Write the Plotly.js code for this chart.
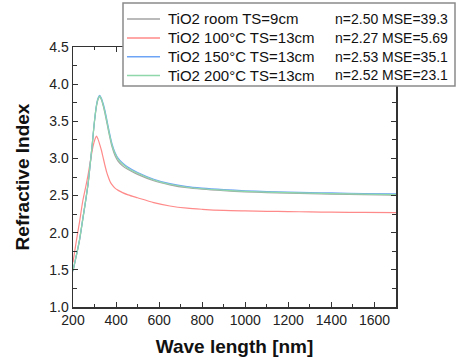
<!DOCTYPE html>
<html>
<head>
<meta charset="utf-8">
<script src="https://cdn.plot.ly/plotly-3.0.1.min.js"></script>
<style>html,body{margin:0;padding:0;background:#fff;}#chart{width:464px;height:360px;}</style>
</head>
<body>
<div id="chart"></div>
<script>
const wavelength = [200, 215, 230, 245, 260, 270, 280, 290, 300, 309, 316, 324, 332, 340, 348, 356, 364, 372, 380, 395, 410, 430, 456, 500, 575, 650, 730, 800, 900, 1000, 1100, 1200, 1300, 1400, 1550, 1700];

const nRoom = [1.48, 1.68, 1.89, 2.17, 2.45, 2.65, 2.92, 3.20, 3.50, 3.70, 3.79, 3.83, 3.79, 3.71, 3.61, 3.50, 3.38, 3.27, 3.17, 3.04, 2.96, 2.90, 2.85, 2.785, 2.70, 2.645, 2.605, 2.585, 2.565, 2.55, 2.54, 2.532, 2.526, 2.52, 2.513, 2.507];
const n100 = [1.60, 1.88, 2.14, 2.42, 2.63, 2.78, 2.95, 3.12, 3.24, 3.30, 3.26, 3.19, 3.11, 3.01, 2.91, 2.82, 2.75, 2.69, 2.65, 2.60, 2.57, 2.54, 2.51, 2.47, 2.405, 2.36, 2.33, 2.315, 2.30, 2.293, 2.288, 2.284, 2.28, 2.277, 2.273, 2.27];
const n150 = [1.49, 1.69, 1.90, 2.18, 2.46, 2.66, 2.93, 3.21, 3.51, 3.72, 3.81, 3.85, 3.81, 3.74, 3.65, 3.54, 3.42, 3.31, 3.21, 3.08, 3.00, 2.94, 2.88, 2.81, 2.72, 2.66, 2.62, 2.60, 2.58, 2.565, 2.555, 2.547, 2.54, 2.535, 2.528, 2.522];
const n200 = [1.49, 1.69, 1.90, 2.18, 2.46, 2.66, 2.93, 3.21, 3.51, 3.71, 3.80, 3.84, 3.80, 3.72, 3.63, 3.52, 3.40, 3.29, 3.19, 3.065, 2.985, 2.925, 2.865, 2.80, 2.71, 2.652, 2.612, 2.592, 2.572, 2.557, 2.547, 2.539, 2.533, 2.527, 2.52, 2.514];

const seriesNames = ["TiO2 room TS=9cm", "TiO2 100°C TS=13cm", "TiO2 150°C TS=13cm", "TiO2 200°C TS=13cm"];
const fitLabels = ["n=2.50 MSE=39.3", "n=2.27 MSE=5.69", "n=2.53 MSE=35.1", "n=2.52 MSE=23.1"];
const seriesValues = [nRoom, n100, n150, n200];
const colors = ["#a3a3a3", "#ff8a8a", "#6ea4f5", "#8fd8aa"];

const traces = seriesValues.map((v, i) => ({
  x: wavelength, y: v, type: "scatter", mode: "lines", name: seriesNames[i], showlegend: false,
  line: {color: colors[i], width: 1.2, shape: "spline", smoothing: 0.8}
}));

const fontFam = "Liberation Sans, Arial, sans-serif";
// plot area in px: left 73, right 396, top 47, bottom 307
const pxX = px => (px - 73) / 323;
const pxY = py => (307 - py) / 260;
const rowPx = [19, 37.9, 56.7, 75.4];

const shapes = [{type: "rect", xref: "paper", yref: "paper", x0: pxX(123), x1: pxX(455), y0: pxY(86), y1: pxY(3),
  fillcolor: "#fff", line: {color: "#8a8a8a", width: 1.5}, layer: "above"}];
const annotations = [];
seriesNames.forEach((name, i) => {
  shapes.push({type: "line", xref: "paper", yref: "paper", x0: pxX(127), x1: pxX(160), y0: pxY(rowPx[i]), y1: pxY(rowPx[i]),
    line: {color: colors[i], width: 1.5}, layer: "above"});
  annotations.push({text: name, xref: "paper", yref: "paper", x: pxX(166), y: pxY(rowPx[i]), xanchor: "left", yanchor: "middle",
    showarrow: false, font: {family: fontFam, size: 15, color: "#111"}});
  annotations.push({text: fitLabels[i], xref: "paper", yref: "paper", x: pxX(333), y: pxY(rowPx[i]), xanchor: "left", yanchor: "middle",
    showarrow: false, font: {family: fontFam, size: 14, color: "#111"}});
});

const layout = {
  width: 464, height: 360,
  margin: {l: 73, r: 68, t: 47, b: 53},
  paper_bgcolor: "#fff", plot_bgcolor: "#fff",
  font: {family: fontFam, size: 14, color: "#222"},
  showlegend: false,
  xaxis: {
    range: [200, 1700], tick0: 200, dtick: 200, ticks: "inside", ticklen: 5, tickwidth: 1, tickcolor: "#333",
    showline: true, linecolor: "#333", linewidth: 1.5, mirror: "ticks", showgrid: false, zeroline: false,
    minor: {dtick: 100, ticks: "inside", ticklen: 3, tickcolor: "#333", showgrid: false},
    tickfont: {size: 14, color: "#222"},
    title: {text: "<b>Wave length [nm]</b>", font: {size: 19, color: "#111"}, standoff: 12}
  },
  yaxis: {
    range: [1, 4.5], tick0: 1, dtick: 0.5, tickformat: ".1f", ticks: "inside", ticklen: 5, tickwidth: 1, tickcolor: "#333",
    showline: true, linecolor: "#333", linewidth: 1.5, mirror: "ticks", showgrid: false, zeroline: false,
    minor: {dtick: 0.25, ticks: "inside", ticklen: 4, tickcolor: "#333", showgrid: false},
    tickfont: {size: 14, color: "#222"},
    title: {text: "<b>Refractive Index</b>", font: {size: 19, color: "#111"}, standoff: 14}
  },
  shapes: shapes,
  annotations: annotations
};

Plotly.newPlot("chart", traces, layout, {staticPlot: true, displayModeBar: false});
</script>
</body>
</html>
